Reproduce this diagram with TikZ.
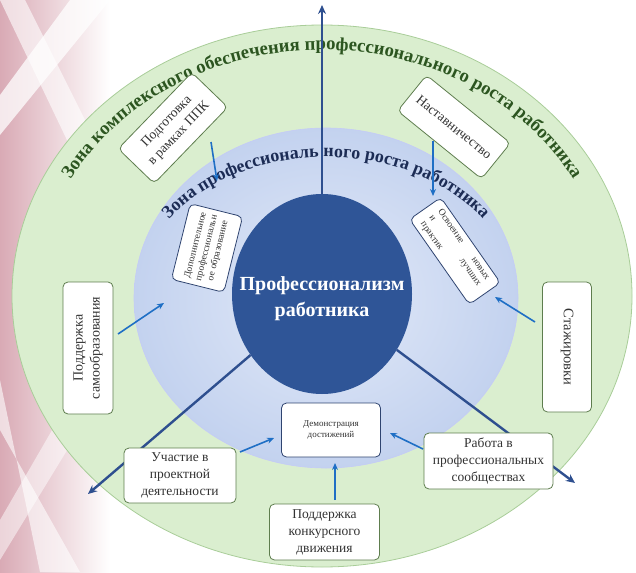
\documentclass[tikz,border=0pt]{standalone}
\usepackage{fontspec}
\setmainfont{Liberation Serif}
\usetikzlibrary{decorations.text, arrows.meta, shapes.geometric}

\definecolor{zgreen}{HTML}{DAEECF}
\definecolor{zgreenline}{HTML}{A9CD99}
\definecolor{zgreentext}{HTML}{2C5520}
\definecolor{zblueIn}{HTML}{E3EAF8}
\definecolor{zblueOut}{HTML}{C3D2EF}
\definecolor{zbluetext}{HTML}{1C2C55}
\definecolor{corecol}{HTML}{2F5597}
\definecolor{bigarrow}{HTML}{2E4F8F}
\definecolor{smallarrow}{HTML}{1F6FC5}
\definecolor{boxline}{HTML}{5E7D4E}
\definecolor{innerline}{HTML}{2F4470}
\definecolor{boxtext}{HTML}{333333}
\definecolor{bgpink}{HTML}{D9AAB5}

\begin{document}
\begin{tikzpicture}[x=1pt,y=-1pt,
  outerbox/.style={draw=boxline, line width=0.8pt, fill=white, rounded corners=5pt,
    align=center, inner sep=2pt, font=\fontsize{13.5}{17}\selectfont, text=boxtext},
  innerbox/.style={draw=innerline, line width=0.8pt, fill=white, rounded corners=5pt,
    align=center, inner sep=2pt, text=boxtext},
  bigarr/.style={draw=bigarrow, line width=2.4pt, -{Stealth[length=9pt,width=8pt]}},
  smallarr/.style={draw=smallarrow, line width=1.6pt, -{Stealth[length=7pt,width=6pt]}}]

\useasboundingbox (0,0) rectangle (636,572);

% background decoration
\fill[left color=bgpink, right color=white] (0,0) rectangle (110,572);
\fill[white, opacity=0.75] (0,95) -- (0,135) -- (110,0) -- (70,0) -- cycle;
\fill[white, opacity=0.6] (0,0) -- (25,0) -- (110,170) -- (110,230) -- cycle;
\fill[white, opacity=0.6] (0,380) -- (0,430) -- (80,572) -- (40,572) -- cycle;
\fill[white, opacity=0.5] (0,560) -- (0,520) -- (110,330) -- (110,380) -- cycle;

% zones
\fill[zgreen, draw=zgreenline, line width=0.8pt] (322,296) ellipse [x radius=310pt, y radius=271pt];
\shade[inner color=zblueIn, outer color=zblueOut] (326,298) ellipse [x radius=192pt, y radius=170pt];
\draw[zblueOut!80!blue!60, line width=0.6pt] (326,298) ellipse [x radius=192pt, y radius=170pt];
\node[ellipse, fill=corecol, minimum width=180pt, minimum height=200pt, inner sep=0pt] (core) at (322,294) {};

% curved texts
\path[decorate, decoration={text along path, text align=center, text color=zgreentext,
  text={|\bfseries\fontsize{18.7}{20}\selectfont|Зона комплексного обеспечения профессионального роста работника}}]
  (322,298) ++(165:286pt and 248pt) arc[start angle=165, end angle=15, x radius=286pt, y radius=248pt];
\path[decorate, decoration={text along path, text align=center, text color=zbluetext,
  text={|\bfseries\fontsize{18}{20}\selectfont|Зона профессиональ ного роста работника}}]
  (326,300) ++(160:190pt and 143pt) arc[start angle=160, end angle=20, x radius=190pt, y radius=143pt];

% big arrows
\coordinate (tipT) at (322,5);
\coordinate (tipL) at (88,494);
\coordinate (tipR) at (575,483);
\draw[bigarr] (core) -- (tipT);
\draw[bigarr] (core) -- (tipL);
\draw[bigarr] (core) -- (tipR);

% boxes
\node[outerbox, rotate=46, minimum width=106pt, minimum height=50pt] (ppk) at (173,128) {Подготовка\\в рамках ППК};
\node[outerbox, rotate=-39, minimum width=108pt, minimum height=46pt] (mentor) at (454,127) {Наставничество};
\node[outerbox, rotate=90, minimum width=132pt, minimum height=50pt, font=\fontsize{14}{17}\selectfont] (selfedu) at (88,348) {Поддержка\\самообразования};
\node[outerbox, rotate=-90, minimum width=130pt, minimum height=49pt, font=\fontsize{14.5}{17}\selectfont] (intern) at (567,347) {Стажировки};
\node[outerbox, minimum width=112pt, minimum height=55pt] (project) at (180,475.5) {Участие в\\проектной\\деятельности};
\node[outerbox, minimum width=110pt, minimum height=56pt] (contest) at (324.5,532) {Поддержка\\конкурсного\\движения};
\node[outerbox, minimum width=129pt, minimum height=56pt] (community) at (488.5,461) {Работа в\\профессиональных\\сообществах};

\node[innerbox, minimum width=99pt, minimum height=54pt, font=\fontsize{9}{11}\selectfont] (demo) at (331,430) {Демонстрация\\достижений};
\node[innerbox, rotate=76, minimum width=78pt, minimum height=54pt, font=\fontsize{9.5}{11.5}\selectfont] (addedu) at (207,248) {Дополнительное\\профессиональн\\ое образование};
\node[innerbox, rotate=-55, minimum width=104pt, minimum height=38pt, font=\fontsize{9.5}{10.5}\selectfont, text width=84pt, align=left] (practice) at (455,251) {Освоение\hfill новых\\и\hfill лучших\\практик};

% small arrows
\coordinate (s1) at (211,142); \coordinate (e1) at (217,181);
\coordinate (s2) at (433,141); \coordinate (e2) at (433,196);
\coordinate (s3) at (118,334); \coordinate (e3) at (164,303);
\coordinate (s4) at (535,322); \coordinate (e4) at (495,297);
\coordinate (s5) at (240,452); \coordinate (e5) at (274,438);
\coordinate (s6) at (335,500); \coordinate (e6) at (335,463);
\coordinate (s7) at (423,449); \coordinate (e7) at (390,433);
\foreach \i in {1,...,7} { \draw[smallarr] (s\i) -- (e\i); }

% core text
\node[text=white, font=\bfseries\fontsize{20}{26}\selectfont, align=center] (coretext) at (322,299) {Профессионализм\\работника};

\end{tikzpicture}
\end{document}
